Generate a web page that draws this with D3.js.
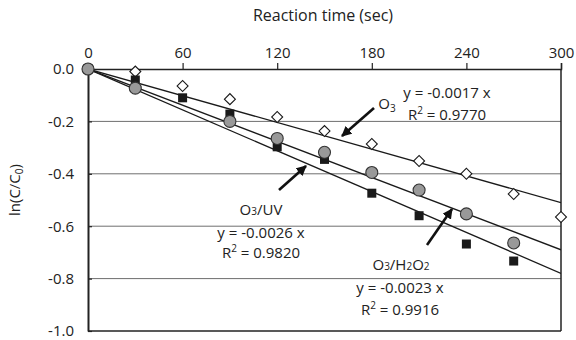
<!DOCTYPE html>
<html>
<head>
<meta charset="utf-8">
<script src="https://cdn.jsdelivr.net/npm/d3@7"></script>
<style>
  body { margin: 0; background: #fff; }
  svg { display: block; font-family: "Open Sans", sans-serif; }
</style>
</head>
<body>
<svg id="chart" width="576" height="340"></svg>
<script>
// reaction time (sec) and ln(C/C0) per process
const timesO3 = [0, 30, 60, 90, 120, 150, 180, 210, 240, 270, 300];
const valuesO3 = [0, -0.01, -0.065, -0.115, -0.183, -0.237, -0.286, -0.351, -0.40, -0.477, -0.565];

const timesUV = [0, 30, 60, 90, 120, 150, 180, 210, 240, 270];
const valuesUV = [0, -0.042, -0.11, -0.172, -0.297, -0.345, -0.474, -0.56, -0.668, -0.733];

const timesH2O2 = [0, 30, 90, 120, 150, 180, 210, 240, 270];
const valuesH2O2 = [0, -0.073, -0.2, -0.265, -0.318, -0.395, -0.462, -0.553, -0.664];

// fitted slopes (y = k x)
const fitNames = ["O3", "O3/H2O2", "O3/UV"];
const fitSlopes = [-0.0017, -0.0023, -0.0026];

const xTicks = [0, 60, 120, 180, 240, 300];
const yTicks = [0, -0.2, -0.4, -0.6, -0.8, -1.0];

const svg = d3.select("#chart");
const plotL = 88, plotR = 561, plotT = 69, plotB = 331;
const font = "'Open Sans', sans-serif";

const x = d3.scaleLinear().domain([0, 300]).range([plotL, plotR]);
const y = d3.scaleLinear().domain([-1, 0]).range([plotB, plotT]);

// grid lines
svg.append("g")
  .selectAll("line")
  .data(yTicks.filter((d) => d < 0 && d > -1))
  .enter()
  .append("line")
  .attr("x1", plotL).attr("x2", plotR)
  .attr("y1", (d) => y(d)).attr("y2", (d) => y(d))
  .attr("stroke", "#6e6e6e")
  .attr("stroke-width", 1);

// frame: right and bottom
svg.append("line")
  .attr("x1", plotR).attr("x2", plotR).attr("y1", plotT).attr("y2", plotB)
  .attr("stroke", "#222").attr("stroke-width", 1.5);
svg.append("line")
  .attr("x1", plotL).attr("x2", plotR).attr("y1", plotB).attr("y2", plotB)
  .attr("stroke", "#222").attr("stroke-width", 1.5);

// top x axis
const xAxis = svg.append("g")
  .attr("transform", `translate(0,${plotT})`)
  .call(d3.axisTop(x).tickValues(xTicks).tickSize(6).tickPadding(5).tickFormat(d3.format("d")));
xAxis.select(".domain").attr("stroke", "#222").attr("stroke-width", 1.5);
xAxis.selectAll(".tick line").attr("stroke", "#222").attr("stroke-width", 1.2);
xAxis.selectAll("text").attr("font-size", "15px").attr("fill", "#222")
  .style("font-family", font);

// left y axis (plain hyphen for negatives, as in the source)
const yAxis = svg.append("g")
  .attr("transform", `translate(${plotL},0)`)
  .call(d3.axisLeft(y).tickValues(yTicks).tickSize(0).tickPadding(14)
    .tickFormat((d) => d.toFixed(1).replace("-0.0", "0.0")));
yAxis.select(".domain").attr("stroke", "#222").attr("stroke-width", 2);
yAxis.selectAll("text").attr("font-size", "15px").attr("fill", "#222")
  .style("font-family", font);
yAxis.selectAll(".tick")
  .append("line")
  .attr("x1", 0).attr("x2", 4)
  .attr("stroke", "#222").attr("stroke-width", 1.2);

// axis titles
svg.append("text")
  .attr("x", 323).attr("y", 21)
  .attr("text-anchor", "middle")
  .attr("font-size", "16px").attr("fill", "#222")
  .text("Reaction time (sec)");

const yTitle = svg.append("text")
  .attr("transform", "translate(20,190) rotate(-90)")
  .attr("text-anchor", "middle")
  .attr("font-size", "15px").attr("fill", "#222");
yTitle.append("tspan").text("ln(C/C");
yTitle.append("tspan").attr("font-size", "10px").attr("dy", 3).text("0");
yTitle.append("tspan").attr("dy", -3).text(")");

// fit lines clipped to plot
svg.append("clipPath").attr("id", "plotClip")
  .append("rect").attr("x", plotL).attr("y", plotT)
  .attr("width", plotR - plotL).attr("height", plotB - plotT);

const fitLine = d3.line().x((d) => x(d[0])).y((d) => y(d[1]));
svg.append("g").attr("clip-path", "url(#plotClip)")
  .selectAll("path")
  .data(fitSlopes)
  .enter()
  .append("path")
  .attr("d", (k) => fitLine([[0, 0], [300, 300 * k]]))
  .attr("fill", "none")
  .attr("stroke", "#1a1a1a")
  .attr("stroke-width", 1.3);

// markers
const ptsO3 = timesO3.map((t, i) => [t, valuesO3[i]]);
const ptsUV = timesUV.map((t, i) => [t, valuesUV[i]]);
const ptsH2O2 = timesH2O2.map((t, i) => [t, valuesH2O2[i]]);

svg.append("g")
  .selectAll("path")
  .data(ptsO3)
  .enter()
  .append("path")
  .attr("transform", (d) => `translate(${x(d[0])},${y(d[1])}) rotate(45)`)
  .attr("d", d3.symbol().type(d3.symbolSquare).size(60))
  .attr("fill", "#fff")
  .attr("stroke", "#1a1a1a")
  .attr("stroke-width", 1.1);

svg.append("g")
  .selectAll("rect")
  .data(ptsUV)
  .enter()
  .append("rect")
  .attr("x", (d) => x(d[0]) - 4.5)
  .attr("y", (d) => y(d[1]) - 4.5)
  .attr("width", 9).attr("height", 9)
  .attr("fill", "#1a1a1a");

svg.append("g")
  .selectAll("circle")
  .data(ptsH2O2)
  .enter()
  .append("circle")
  .attr("cx", (d) => x(d[0]))
  .attr("cy", (d) => y(d[1]))
  .attr("r", 6)
  .attr("fill", "#999")
  .attr("stroke", "#333")
  .attr("stroke-width", 1.1);

// arrows
svg.append("defs").append("marker")
  .attr("id", "head")
  .attr("viewBox", "0 0 10 10")
  .attr("refX", 9).attr("refY", 5)
  .attr("markerWidth", 4).attr("markerHeight", 4)
  .attr("orient", "auto")
  .append("path").attr("d", "M0,0 L10,5 L0,10 z").attr("fill", "#111");

const arrows = [
  [374, 108, 342, 136],
  [279, 190, 306, 166],
  [427, 245, 452, 209]
];
svg.append("g")
  .selectAll("line")
  .data(arrows)
  .enter()
  .append("line")
  .attr("x1", (d) => d[0]).attr("y1", (d) => d[1])
  .attr("x2", (d) => d[2]).attr("y2", (d) => d[3])
  .attr("stroke", "#111")
  .attr("stroke-width", 2.6)
  .attr("marker-end", "url(#head)");

// annotation labels
function chem(sel, parts) {
  parts.forEach((p) => {
    if (p.sub) {
      sel.append("tspan").attr("font-size", "10px").attr("dy", p.dy || 0).text(p.t);
    } else {
      sel.append("tspan").attr("dy", p.dy || 0).text(p.t);
    }
  });
}
function label(px, py, parts) {
  const t = svg.append("text")
    .attr("x", px).attr("y", py)
    .attr("text-anchor", "middle")
    .attr("font-size", "15px").attr("fill", "#222");
  chem(t, parts);
  return t;
}

label(387, 109, [{ t: "O" }, { t: "3", sub: true, dy: 3 }]);
label(447, 98, [{ t: "y = -0.0017 x" }]);
label(447, 120, [{ t: "R" }, { t: "2", sub: true, dy: -6 }, { t: " = 0.9770", dy: 6 }]);

label(261, 215, [{ t: "O" }, { t: "3", sub: true }, { t: "/UV" }]);
label(261, 238, [{ t: "y = -0.0026 x" }]);
label(261, 258, [{ t: "R" }, { t: "2", sub: true, dy: -6 }, { t: " = 0.9820", dy: 6 }]);

label(401, 270, [{ t: "O" }, { t: "3", sub: true }, { t: "/H" }, { t: "2", sub: true }, { t: "O" }, { t: "2", sub: true }]);
label(400, 293, [{ t: "y = -0.0023 x" }]);
label(400, 315, [{ t: "R" }, { t: "2", sub: true, dy: -6 }, { t: " = 0.9916", dy: 6 }]);
</script>
</body>
</html>
